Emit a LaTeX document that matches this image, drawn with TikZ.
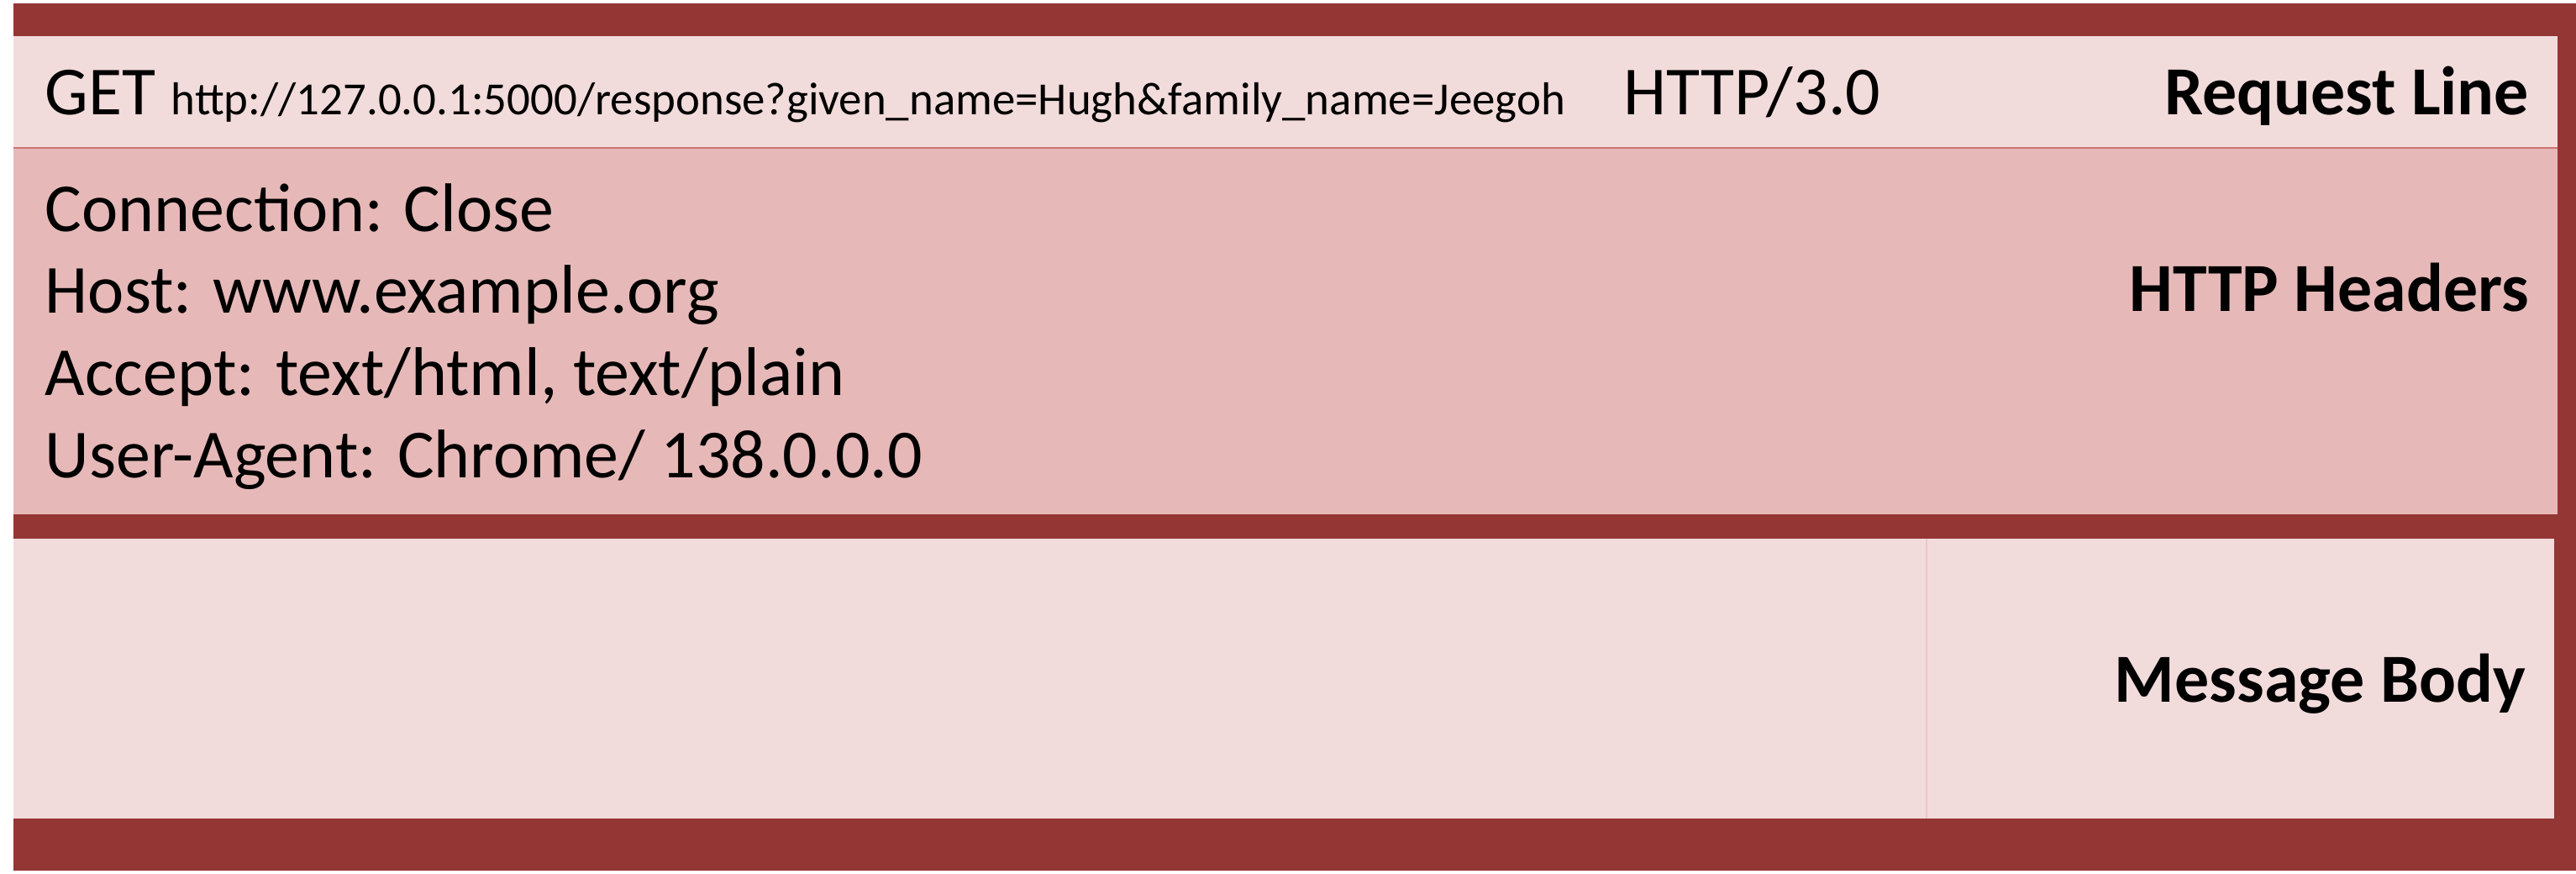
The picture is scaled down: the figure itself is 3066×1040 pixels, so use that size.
\documentclass[tikz,border=0pt]{standalone}
\usepackage{fontspec}
\setmainfont{Carlito}
\definecolor{frame}{HTML}{943634}
\definecolor{pale}{HTML}{F2DCDB}
\definecolor{rose}{HTML}{E6B9B8}
\definecolor{seam}{HTML}{C0504D}
\begin{document}
\begin{tikzpicture}[x=0.01cm, y=-0.01cm, line width=0.5pt,
  field/.style={anchor=base west, inner sep=0pt, font=\fontsize{23.3}{28}\selectfont},
  url/.style={anchor=base west, inner sep=0pt, font=\fontsize{15.6}{19}\selectfont},
  title/.style={anchor=base east, inner sep=0pt, font=\fontsize{23.3}{28}\selectfont\bfseries}]
\useasboundingbox (0,0) rectangle (3066,1040);
% Bands
\fill [frame] (16,4) rectangle (3066,1036);
\fill [pale]  (16,43) rectangle (3044,176);
\fill [rose]  (16,176) rectangle (3044,612);
\draw [seam!80] (16,176) -- (3044,176);
\fill [pale]  (16,641) rectangle (3040,974);
\draw [rose!60!pale] (2293,641) -- (2293,974);
% Request line
\node [field] (get) at (53,137) {GET};
\node [url]   (uri) at (203,137) {http://127.0.0.1:5000/response?given\_name=Hugh\&family\_name=Jeegoh};
\node [field] (ver) at (1932,137) {HTTP/3.0};
\node [title] (reqline) at (3011,137) {Request Line};
% Headers
\node [field] (conn)  at (53,276) {Connection: Close};
\node [field] (host)  at (53,373) {Host: www.example.org};
\node [field] (accpt) at (53,471) {Accept: text/html, text/plain};
\node [field] (agent) at (53,569) {User-Agent: Chrome/ 138.0.0.0};
\node [title] (headers) at (3011,371) {HTTP Headers};
% Body
\node [title] (body) at (3007,835) {Message Body};
\end{tikzpicture}
\end{document}
